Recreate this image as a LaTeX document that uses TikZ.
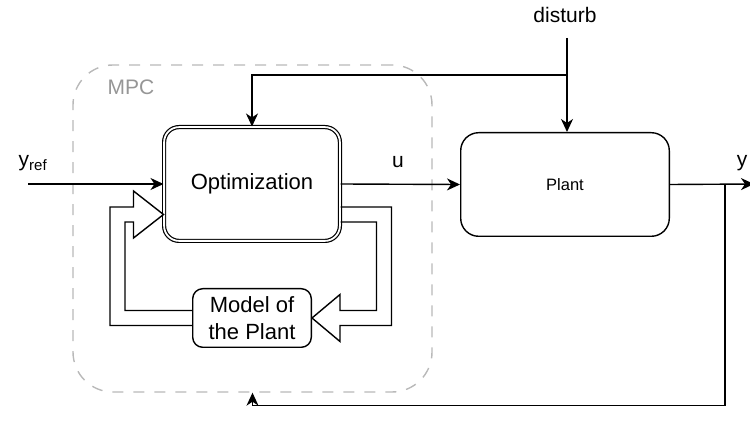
\documentclass[tikz,border=0pt]{standalone}
\usepackage{fontspec}
\setmainfont{Liberation Sans}
\usetikzlibrary{arrows.meta,calc}
\definecolor{mpcline}{RGB}{185,185,185}
\definecolor{mpctext}{RGB}{150,150,150}
\begin{document}
\begin{tikzpicture}[x=1pt,y=-1pt,line width=1.4pt,
  arr/.style={-{Stealth[length=13pt,width=12pt,inset=4pt]}},
  big/.style={font=\fontsize{22}{26.5}\selectfont},
  lbl/.style={font=\fontsize{21}{25}\selectfont, inner sep=0pt},
  box/.style={draw, rounded corners=#1, inner sep=0pt, align=center},
  blockarrow/.style={line width=1.4pt, line join=miter}
]
\clip (0,0) rectangle (750,427);

% MPC frame
\node[draw=mpcline, dashed, dash pattern=on 11pt off 10pt, rounded corners=40pt,
      minimum width=359pt, minimum height=327pt] (mpc) at (252.5,228.5) {};
\node[lbl, text=mpctext] (mpclbl) at (131,87) {MPC};

% blocks
\node[box=15pt, big, double=white, double distance=1.8pt, line width=1.2pt,
      minimum width=175.8pt, minimum height=113.8pt] (opt) at (252,184) {Optimization};
\node[box=18pt, font=\fontsize{16.5}{20}\selectfont,
      minimum width=208.6pt, minimum height=103.6pt] (plant) at (565,184.5) {Plant};
\node[box=10pt, big, minimum width=118.6pt, minimum height=58.6pt] (model) at (252,318) {Model of\\the Plant};

% labels
\node[lbl] (dist) at (565,15) {disturb};
\node[lbl, anchor=west] (yref) at (18,163) {y{\fontsize{15}{15}\selectfont\raisebox{-4pt}{ref}}};
\node[lbl] (ulbl) at (398,162) {u};
\node[lbl] (ylbl) at (742,163) {y};

% signal connectors
\coordinate (in) at (28,184);
\coordinate (out) at (754,184);
\coordinate (fb) at (725,184);
\coordinate (dtop) at (567,38);
\draw[arr] (in) -- (opt.west);
\draw[arr] (opt.east) -- (plant.west);
\draw[arr] (plant.east) -- (out);
\draw[arr] (fb) |- ($(mpc.south)+(0,13)$) -- (mpc.south);
\draw[arr] (dtop) -- (dtop |- plant.north);
\draw[arr] ($(dtop)+(0,37)$) -| (opt.north);

% block arrow: optimization -> model
\draw[blockarrow] ($(opt.east)+(0,23)$) -- ++(51,0) |- ($(model.east)+(28,7.5)$)
  -- ++(0,16) -- (model.east) -- ++(28,-23.5) -- ++(0,16)
  -| ($(opt.east)+(36,38)$) -- ($(opt.east)+(0,38)$);

% block arrow: model -> optimization
\draw[blockarrow] ($(model.west)+(0,-7.5)$) -- ++(-67,0) |- ($(opt.west)+(-30,38)$)
  -- ++(0,16) -- ($(opt.west)+(0,30.5)$) -- ++(-30,-23.5) -- ++(0,16)
  -| ($(model.west)+(-82,7.5)$) -- ($(model.west)+(0,7.5)$);
\end{tikzpicture}
\end{document}
